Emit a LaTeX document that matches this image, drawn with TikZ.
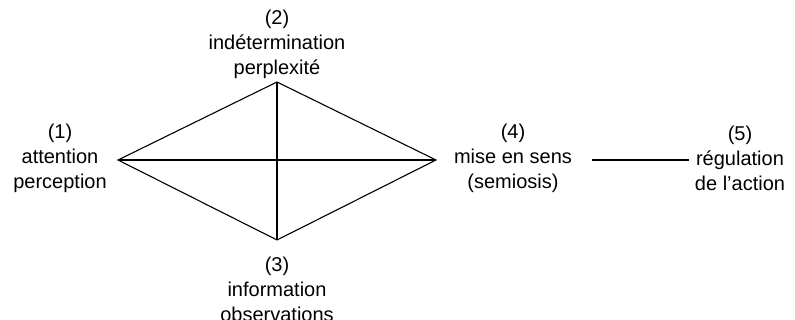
\documentclass[tikz,border=0pt]{standalone}
\usepackage{fontspec}
\setmainfont{Liberation Sans}
\usepackage{tikz}

\begin{document}
\begin{tikzpicture}[x=1pt, y=-1pt, line width=1.1pt,
    etape/.style={align=center, inner sep=0pt, font=\fontsize{20}{25}\selectfont}]
    \useasboundingbox (0, 0) rectangle (795, 320);
    \coordinate (G) at (118, 160);
    \coordinate (H) at (277, 82);
    \coordinate (D) at (436, 160);
    \coordinate (B) at (277, 240);
    \coordinate (S1) at (592, 160);
    \coordinate (S2) at (689, 160);
    \draw (G) -- (H) -- (D) -- (B) -- cycle;
    \draw (G) -- (D);
    \draw (H) -- (B);
    \draw (S1) -- (S2);
    \node [etape] (attention) at (60, 158) {(1)\\attention\\perception};
    \node [etape] (indetermination) at (277, 44) {(2)\\ind\'etermination\\perplexit\'e};
    \node [etape] (information) at (277, 289) {(3)\\information\\observations};
    \node [etape] (sens) at (513, 158) {(4)\\mise en sens\\(semiosis)};
    \node [etape] (regulation) at (740, 158) {(5)\\r\'egulation\\de l’action};
  \end{tikzpicture}
\end{document}
